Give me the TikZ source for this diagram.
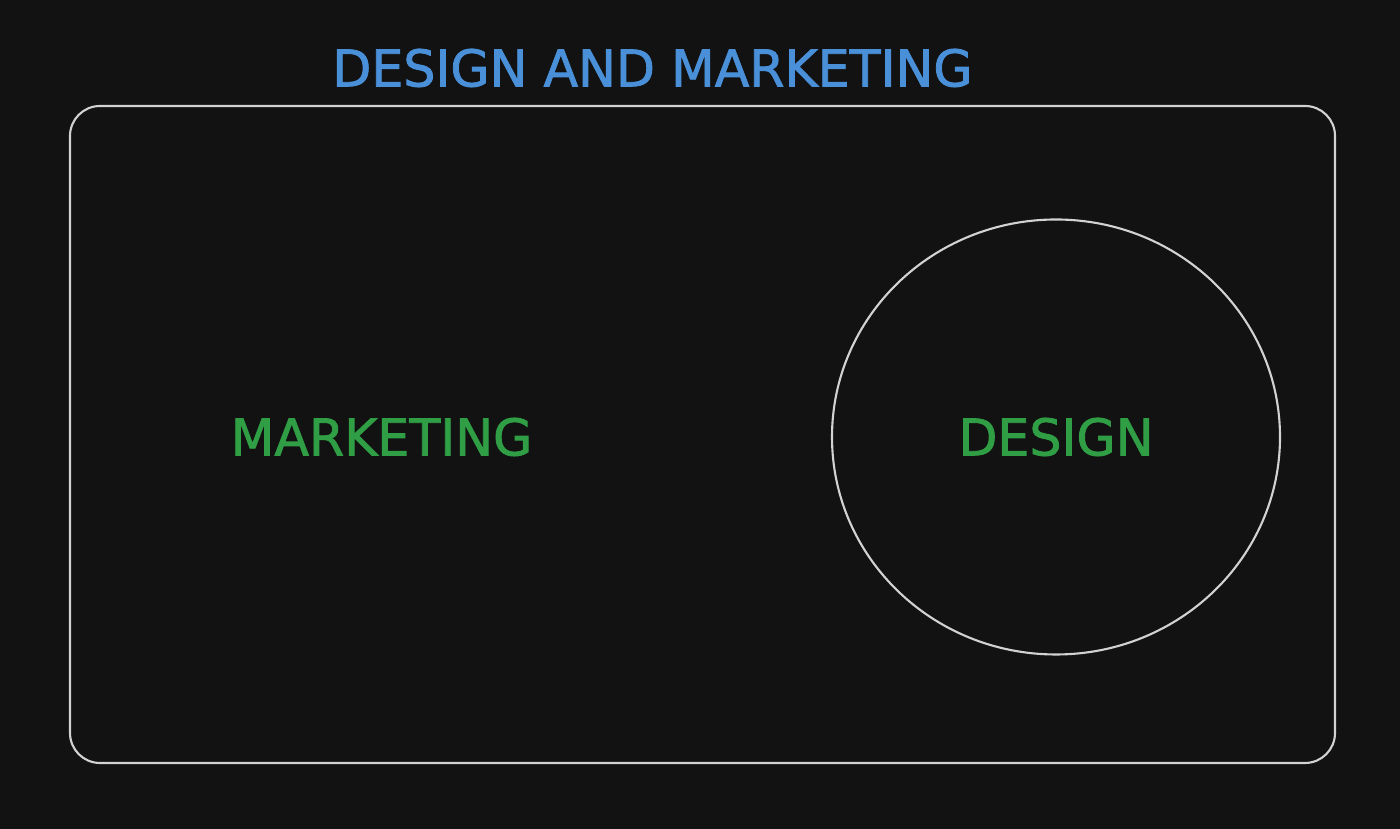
\documentclass[tikz,border=0pt]{standalone}
\usepackage{fontspec}
\setmainfont{DejaVu Sans}
\newfontfamily\sketchfont[FakeBold=1.6]{DejaVu Sans}
\usetikzlibrary{shapes.geometric}
\definecolor{bg}{HTML}{121212}
\definecolor{sketch}{HTML}{D2D2D2}
\definecolor{titleblue}{HTML}{4A90D9}
\definecolor{areagreen}{HTML}{2F9E44}
\begin{document}
\begin{tikzpicture}[sketchtext/.style={font=\sketchfont\fontsize{14.4}{17}\selectfont,inner sep=0pt},
  outline/.style={draw=sketch,line width=0.6pt,inner sep=0pt}]
\fill[bg](0,0)rectangle(14,8.29);
\useasboundingbox(0,0)rectangle(14,8.29);
\node[outline,rectangle,rounded corners=0.3cm,minimum width=12.65cm,minimum height=6.57cm](frame) at (7.025,3.945){};
\node[outline,ellipse,minimum width=4.48cm,minimum height=4.35cm](designarea) at (10.56,3.92){};
\node[sketchtext,text=titleblue](title) at (6.525,7.61){DESIGN AND MARKETING};
\node[sketchtext,text=areagreen](marketing) at (3.815,3.92){MARKETING};
\node[sketchtext,text=areagreen](design) at (designarea){DESIGN};
\end{tikzpicture}
\end{document}
